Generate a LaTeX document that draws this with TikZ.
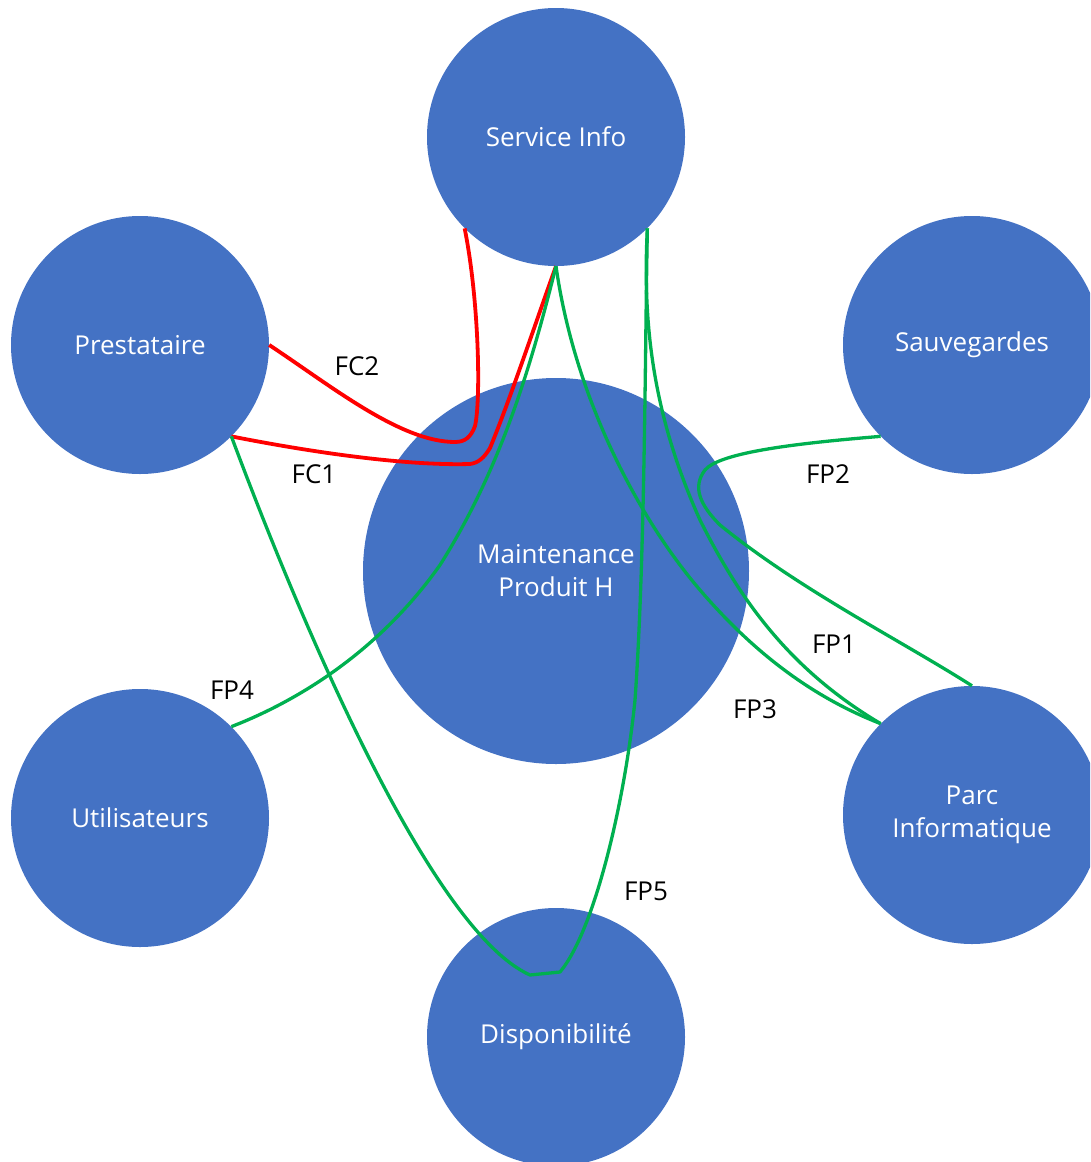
\documentclass[tikz,border=0pt]{standalone}
\usepackage{fontspec}
\setmainfont{Open Sans}
\definecolor{nodeblue}{HTML}{4472C4}
\definecolor{fpgreen}{HTML}{00B050}
\definecolor{fcred}{HTML}{FF0000}
\begin{document}
\begin{tikzpicture}[x=1pt,y=-1pt,
  actor/.style={circle,fill=nodeblue,draw=none,minimum size=258pt,inner sep=0pt,
    text=white,font=\fontsize{26}{33}\selectfont,align=center},
  core/.style={actor,minimum size=386pt},
  fp/.style={draw=fpgreen,line width=3.3pt,line join=round},
  fc/.style={draw=fcred,line width=3.8pt,line join=round},
  lbl/.style={font=\fontsize{26}{30}\selectfont,text=black,inner sep=0pt}]
\useasboundingbox (0,0) rectangle (1090,1162);
\clip (0,0) rectangle (1090,1162);

% actors of the octopus diagram
\node[actor] (si) at (556,137) {Service Info};
\node[actor] (pr) at (140,345) {Prestataire};
\node[actor] (sv) at (972,345) {Sauvegardes};
\node[core]  (mp) at (556,571) {Maintenance\\Produit H};
\node[actor] (ut) at (140,818) {Utilisateurs};
\node[actor] (pi) at (972,815) {Parc\\Informatique};
\node[actor] (di) at (556,1037) {Disponibilité};

% constraint functions
\draw[fc] (pr.0) .. controls (330,385) and (400,442) .. (455,442)
  .. controls (465,442) and (471,437) .. (475,426)
  .. controls (481,400) and (479,300) .. (si.225);
\draw[fc] (pr.315) .. controls (300,450) and (400,466) .. (470,464)
  .. controls (478,463) and (484,458) .. (490,448)
  .. controls (510,400) and (540,310) .. (si.270);

% principal functions
\draw[fp] (si.270) .. controls (530,370) and (500,470) .. (440,565)
  .. controls (380,650) and (300,700) .. (ut.45);
\draw[fp] (si.270) .. controls (575,400) and (640,520) .. (700,590)
  .. controls (760,660) and (820,700) .. (pi.135);
\draw[fp] (si.315) .. controls (642,330) and (655,420) .. (700,520)
  .. controls (740,600) and (790,670) .. (pi.135);
\draw[fp] (sv.225) .. controls (800,443) and (720,452) .. (705,470)
  .. controls (692,487) and (700,505) .. (720,525)
  .. controls (800,590) and (900,640) .. (pi.90);
\draw[fp] (pr.315) .. controls (300,620) and (430,930) .. (530,975)
  -- (560,972) .. controls (595,930) and (625,800) .. (635,700)
  .. controls (645,560) and (645,350) .. (si.315);

% function labels
\node[lbl] (fc2) at (357,366) {FC2};
\node[lbl] (fc1) at (314,474) {FC1};
\node[lbl] (fp2) at (828,474) {FP2};
\node[lbl] (fp1) at (834,644) {FP1};
\node[lbl] (fp3) at (755,709) {FP3};
\node[lbl] (fp4) at (232,690) {FP4};
\node[lbl] (fp5) at (646,891) {FP5};
\end{tikzpicture}
\end{document}
